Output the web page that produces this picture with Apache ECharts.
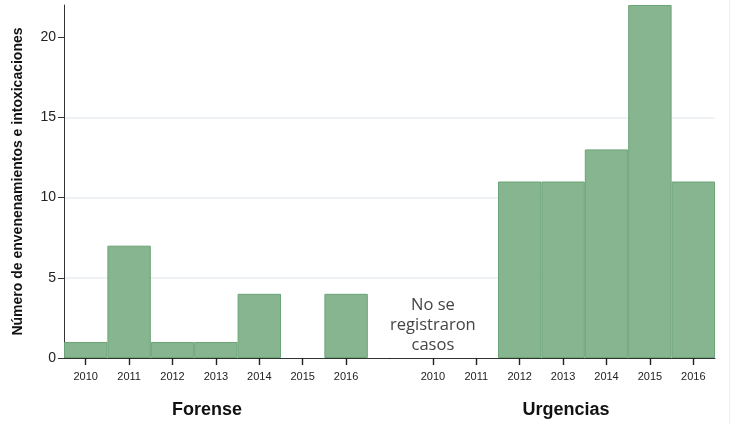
<!DOCTYPE html>
<html>
<head>
<meta charset="utf-8">
<script src="https://cdn.jsdelivr.net/npm/echarts@6/dist/echarts.min.js"></script>
<style>
  html, body { margin: 0; padding: 0; background: #fff; }
  #main { width: 743px; height: 424px; }
</style>
</head>
<body>
<div id="main"></div>
<script>
const years = ['2010', '2011', '2012', '2013', '2014', '2015', '2016'];
const forense = [1, 7, 1, 1, 4, 0, 4];
const urgencias = [0, 0, 11, 11, 13, 22, 11];
const groupNames = ['Forense', 'Urgencias'];
const yTicks = [0, 5, 10, 15, 20];

// categories: forense years, one empty slot, urgencias years
const cats = years.map(y => 'F' + y).concat(['gap']).concat(years.map(y => 'U' + y));
const vals = forense.concat([0]).concat(urgencias).map(v => v === 0 ? null : v);

const chart = echarts.init(document.getElementById('main'));

chart.setOption({
    animation: false,
    grid: { left: 64, right: 28, top: 5, bottom: 66 },
    xAxis: {
        type: 'category',
        data: cats,
        axisLine: { lineStyle: { color: '#333', width: 1 } },
        axisTick: {
            show: true,
            alignWithLabel: true,
            interval: 0,
            length: 7,
            lineStyle: { color: '#222', width: 1.4 }
        },
        axisLabel: {
            interval: 0,
            color: '#222',
            fontSize: 11,
            fontFamily: 'Liberation Sans, Arial',
            margin: 13,
            formatter: v => v === 'gap' ? '' : v.slice(1)
        }
    },
    yAxis: {
        type: 'value',
        min: 0,
        max: 22,
        interval: 5,
        name: 'Número de envenenamientos e intoxicaciones',
        nameLocation: 'middle',
        nameGap: 39,
        nameTextStyle: { fontSize: 14, fontWeight: 'bold', color: '#111', fontFamily: 'Liberation Sans, Arial' },
        axisLine: { show: true, lineStyle: { color: '#333' } },
        axisTick: { show: true, length: 6, lineStyle: { color: '#333', width: 1 }, customValues: yTicks },
        axisLabel: {
            color: '#222',
            fontSize: 14,
            fontFamily: 'Liberation Sans, Arial',
            margin: 8,
            customValues: yTicks
        },
        splitLine: { show: true, showMinLine: false, showMaxLine: false, lineStyle: { color: '#e9eef1', width: 1.5 } }
    },
    series: [
        {
            type: 'bar',
            data: vals,
            barCategoryGap: '0%',
            itemStyle: { color: '#86b590', borderColor: '#6aa477', borderWidth: 1 }
        }
    ]
});

const p3 = chart.convertToPixel({ xAxisIndex: 0 }, 'F2013');
const p11 = chart.convertToPixel({ xAxisIndex: 0 }, 'U2013');
const pGap = chart.convertToPixel({ xAxisIndex: 0 }, 'U2010');
const pHole = chart.convertToPixel({ xAxisIndex: 0 }, 'gap');
const base = chart.convertToPixel({ yAxisIndex: 0 }, 0);

chart.setOption({
    graphic: [
        {
            // no tick under the empty slot between groups
            type: 'rect', shape: { x: pHole - 3, y: base + 1, width: 6, height: 9 },
            style: { fill: '#fff' }, z: 100
        },
        {
            type: 'text', x: p3 - 9, y: 410,
            style: { text: groupNames[0], font: 'bold 18px "Liberation Sans", Arial', fill: '#111', align: 'center', verticalAlign: 'middle' }
        },
        {
            type: 'text', x: p11 + 3, y: 410,
            style: { text: groupNames[1], font: 'bold 18px "Liberation Sans", Arial', fill: '#111', align: 'center', verticalAlign: 'middle' }
        },
        {
            type: 'text', x: pGap, y: base - 33,
            style: { text: 'No se\nregistraron\ncasos', font: '16.5px "Open Sans", sans-serif', lineHeight: 20, fill: '#444', align: 'center', verticalAlign: 'middle' }
        },
        {
            type: 'line', shape: { x1: 729.5, y1: 0, x2: 729.5, y2: 424 },
            style: { stroke: '#eeeeee', lineWidth: 1 }
        }
    ]
});
</script>
</body>
</html>
